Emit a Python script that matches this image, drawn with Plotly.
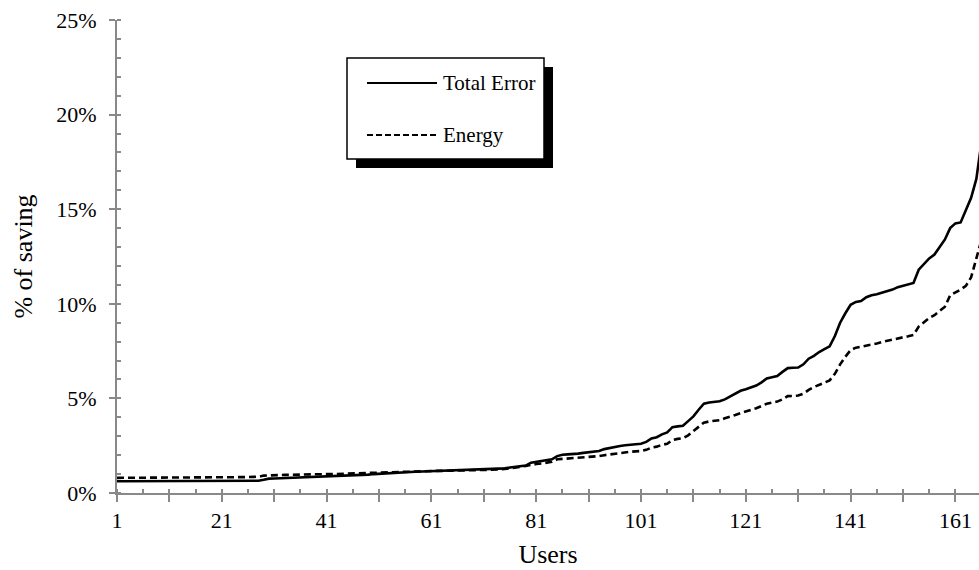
import plotly.graph_objects as go

# ---------------- data ----------------
users = list(range(1, 167))

total_error = [
    0.62, 0.62, 0.62, 0.62, 0.62, 0.62, 0.62, 0.62, 0.62, 0.62,
    0.62, 0.62, 0.62, 0.62, 0.62, 0.62, 0.62, 0.62, 0.62, 0.62,
    0.62, 0.62, 0.62, 0.63, 0.63, 0.63, 0.64, 0.65, 0.70, 0.76,
    0.77, 0.78, 0.78, 0.79, 0.79, 0.80, 0.81, 0.82, 0.83, 0.84,
    0.85, 0.86, 0.87, 0.88, 0.89, 0.90, 0.91, 0.92, 0.97, 1.00,
    1.02, 1.04, 1.06, 1.07, 1.08, 1.10, 1.11, 1.12, 1.13, 1.15,
    1.16, 1.17, 1.18, 1.18, 1.19, 1.20, 1.20, 1.21, 1.22, 1.23,
    1.23, 1.24, 1.25, 1.26, 1.30, 1.35, 1.38, 1.42, 1.45, 1.60,
    1.65, 1.68, 1.72, 1.78, 1.95, 2.02, 2.04, 2.05, 2.08, 2.12,
    2.15, 2.17, 2.22, 2.32, 2.38, 2.42, 2.48, 2.52, 2.55, 2.57,
    2.60, 2.70, 2.88, 2.95, 3.10, 3.20, 3.48, 3.52, 3.55, 3.80,
    4.05, 4.40, 4.72, 4.78, 4.80, 4.85, 4.95, 5.10, 5.25, 5.40,
    5.48, 5.58, 5.68, 5.85, 6.05, 6.12, 6.18, 6.40, 6.60, 6.62,
    6.63, 6.80, 7.10, 7.25, 7.45, 7.60, 7.75, 8.30, 9.00, 9.50,
    9.95, 10.10, 10.15, 10.35, 10.45, 10.50, 10.58, 10.65, 10.75, 10.88,
    10.95, 11.00, 11.10, 11.80, 12.10, 12.40, 12.60, 13.00, 13.40, 14.00,
    14.25, 14.30, 15.00, 15.60, 16.60, 18.60,
]

energy = [
    0.80, 0.80, 0.80, 0.80, 0.80, 0.80, 0.80, 0.80, 0.80, 0.80,
    0.80, 0.80, 0.80, 0.80, 0.81, 0.81, 0.81, 0.81, 0.82, 0.82,
    0.82, 0.82, 0.83, 0.83, 0.83, 0.84, 0.85, 0.86, 0.92, 0.94,
    0.95, 0.95, 0.96, 0.96, 0.97, 0.97, 0.98, 0.98, 0.99, 0.99,
    1.00, 1.00, 1.01, 1.01, 1.02, 1.02, 1.03, 1.04, 1.06, 1.08,
    1.09, 1.10, 1.10, 1.11, 1.12, 1.13, 1.13, 1.14, 1.15, 1.15,
    1.16, 1.17, 1.17, 1.18, 1.18, 1.19, 1.19, 1.20, 1.21, 1.21,
    1.22, 1.22, 1.23, 1.24, 1.27, 1.30, 1.33, 1.38, 1.43, 1.50,
    1.53, 1.56, 1.60, 1.65, 1.78, 1.80, 1.81, 1.82, 1.83, 1.85,
    1.88, 1.90, 1.95, 2.00, 2.04, 2.08, 2.13, 2.16, 2.18, 2.20,
    2.22, 2.28, 2.40, 2.45, 2.55, 2.60, 2.80, 2.86, 2.90, 3.05,
    3.28, 3.50, 3.72, 3.78, 3.80, 3.85, 3.95, 4.02, 4.12, 4.22,
    4.30, 4.38, 4.48, 4.60, 4.72, 4.78, 4.83, 4.95, 5.12, 5.13,
    5.15, 5.25, 5.45, 5.60, 5.72, 5.82, 5.95, 6.30, 6.80, 7.20,
    7.55, 7.68, 7.73, 7.80, 7.85, 7.90, 7.98, 8.05, 8.12, 8.18,
    8.23, 8.28, 8.35, 8.80, 9.05, 9.25, 9.40, 9.65, 9.85, 10.45,
    10.60, 10.75, 10.95, 11.40, 12.40, 13.40,
]

series_names = ["Total Error", "Energy"]
x_tick_vals = list(range(1, 162, 10))
x_tick_text = [str(v) if (v - 1) % 20 == 0 else "" for v in x_tick_vals]
y_tick_vals = [0, 5, 10, 15, 20, 25]
y_tick_text = [f"{v}%" for v in y_tick_vals]

# ---------------- layout constants ----------------
W, H = 979, 570
ML, MR, MT, MB = 117, 0, 20, 77
PW, PH = W - ML - MR, H - MT - MB
FONT = "Liberation Serif"
FS = 22
LFS = 21
AX = "#898989"


def px(x):
    return (x - ML) / PW


def py(y):
    return (H - MB - y) / PH


fig = go.Figure()
fig.add_trace(go.Scatter(x=users, y=total_error, mode="lines", name=series_names[0],
                         line=dict(color="black", width=2.6), showlegend=False))
fig.add_trace(go.Scatter(x=users, y=energy, mode="lines", name=series_names[1],
                         line=dict(color="black", width=2.6, dash="7px,4px"), showlegend=False))

xr = [1, 1 + PW / 5.24]

fig.update_layout(
    width=W, height=H,
    margin=dict(l=ML, r=MR, t=MT, b=MB, pad=0),
    paper_bgcolor="white", plot_bgcolor="white",
    font=dict(family=FONT, size=FS, color="black"),
    showlegend=False,
    xaxis=dict(
        range=xr, tickmode="array", tickvals=x_tick_vals, ticktext=x_tick_text,
        ticks="outside", ticklen=7, tickwidth=2, tickcolor=AX,
        showline=True, linecolor=AX, linewidth=2, showgrid=False, zeroline=False,
        minor=dict(ticks="inside", tick0=1, dtick=5, ticklen=4, tickwidth=2, tickcolor=AX, showgrid=False),
        title=dict(text="Users", standoff=12),
        tickfont=dict(size=FS), automargin=False,
    ),
    xaxis2=dict(
        range=xr, overlaying="x", anchor="y", side="bottom",
        tickmode="array", tickvals=x_tick_vals, ticks="inside", ticklen=7, tickwidth=2,
        tickcolor=AX, showticklabels=False, showline=False, showgrid=False, zeroline=False,
    ),
    yaxis=dict(
        range=[0, 25], tickmode="array", tickvals=y_tick_vals, ticktext=y_tick_text,
        ticks="outside", ticklen=6, tickwidth=2, tickcolor=AX,
        showline=True, linecolor=AX, linewidth=2, showgrid=False, zeroline=False,
        minor=dict(ticks="inside", tick0=0, dtick=1, ticklen=4, tickwidth=2, tickcolor=AX, showgrid=False),
        title=dict(text="% of saving", standoff=16),
        ticklabelstandoff=8,
        tickfont=dict(size=FS), automargin=False,
    ),
    yaxis2=dict(
        range=[0, 25], overlaying="y", anchor="x", side="left",
        tickmode="array", tickvals=y_tick_vals, ticks="inside", ticklen=6, tickwidth=2,
        tickcolor=AX, showticklabels=False, showline=False, showgrid=False, zeroline=False,
    ),
)

# ---------------- legend (drawn box with shadow) ----------------
bx0, bx1, by0, by1 = 347, 544, 58, 159
sh = 9
shapes = [
    dict(type="rect", xref="paper", yref="paper", x0=px(bx0 + sh), x1=px(bx1 + sh),
         y0=py(by1 + sh), y1=py(by0 + sh), fillcolor="black", line=dict(width=0), layer="above"),
    dict(type="rect", xref="paper", yref="paper", x0=px(bx0), x1=px(bx1),
         y0=py(by1), y1=py(by0), fillcolor="white", line=dict(color="black", width=1.5), layer="above"),
    dict(type="line", xref="paper", yref="paper", x0=px(367), x1=px(437), y0=py(83), y1=py(83),
         line=dict(color="black", width=2), layer="above"),
    dict(type="line", xref="paper", yref="paper", x0=px(367), x1=px(437), y0=py(135), y1=py(135),
         line=dict(color="black", width=2, dash="6px,3px"), layer="above"),
]
annotations = [
    dict(xref="paper", yref="paper", x=px(441), y=py(83), text=series_names[0], showarrow=False,
         xanchor="left", yanchor="middle", font=dict(size=LFS, family=FONT, color="black")),
    dict(xref="paper", yref="paper", x=px(441), y=py(135), text=series_names[1], showarrow=False,
         xanchor="left", yanchor="middle", font=dict(size=LFS, family=FONT, color="black")),
]
fig.update_layout(shapes=shapes, annotations=annotations)

fig.write_html("out.html")
